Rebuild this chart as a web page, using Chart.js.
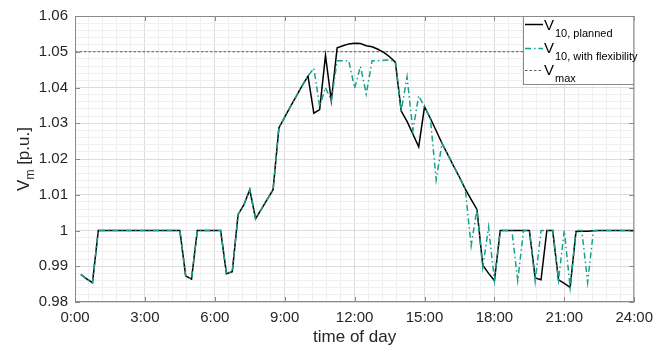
<!DOCTYPE html>
<html>
<head>
<meta charset="utf-8">
<script src="https://cdn.jsdelivr.net/npm/chart.js@4.4.0/dist/chart.umd.min.js"></script>
<style>
  body { margin: 0; background: #fff; }
  #wrap { width: 660px; height: 349px; }
</style>
</head>
<body>
<div id="wrap"><canvas id="voltChart" width="660" height="349"></canvas></div>
<script>
// --- DATA (15 min steps) ---
const timeOfDay = [
  0.25, 0.5, 0.75,
  1, 1.25, 1.5, 1.75,   2, 2.25, 2.5, 2.75,   3, 3.25, 3.5, 3.75,
  4, 4.25, 4.5, 4.75,   5, 5.25, 5.5, 5.75,   6, 6.25, 6.5, 6.75,
  7, 7.25, 7.5, 7.75,   8, 8.25, 8.5, 8.75,   9, 9.25, 9.5, 9.75,
  10, 10.25, 10.5, 10.75, 11, 11.25, 11.5, 11.75, 12, 12.25, 12.5, 12.75,
  13, 13.25, 13.5, 13.75, 14, 14.25, 14.5, 14.75, 15, 15.25, 15.5, 15.75,
  16, 16.25, 16.5, 16.75, 17, 17.25, 17.5, 17.75, 18, 18.25, 18.5, 18.75,
  19, 19.25, 19.5, 19.75, 20, 20.25, 20.5, 20.75, 21, 21.25, 21.5, 21.75,
  22, 22.25, 22.5, 22.75, 23, 23.25, 23.5, 23.75,
  24
];

const vPlanned = [
  0.9877, 0.9865, 0.9854,
  1.0, 1.0, 1.0, 1.0,
  1.0, 1.0, 1.0, 1.0,
  1.0, 1.0, 1.0, 1.0,
  1.0, 1.0, 1.0, 0.9873,
  0.9864, 1.0, 1.0, 1.0,
  1.0, 1.0, 0.9879, 0.9885,
  1.0045, 1.0072, 1.0114, 1.0033,
  1.0060, 1.0087, 1.0114, 1.0287,
  1.0317, 1.0347, 1.0376, 1.0405,
  1.0432, 1.0328, 1.0338, 1.0490,
  1.0363, 1.0511, 1.0517, 1.0522,
  1.0524, 1.0523, 1.0517, 1.0514,
  1.0507, 1.0498, 1.0486, 1.0471,
  1.0334, 1.0305, 1.0270, 1.0234,
  1.0346, 1.0314, 1.0279, 1.0244,
  1.0212, 1.0180, 1.0149, 1.0116,
  1.0087, 1.0059, 0.9903, 0.9880,
  0.9860, 1.0, 1.0, 1.0,
  1.0, 1.0, 1.0, 0.9867,
  0.9862, 1.0, 1.0, 0.9862,
  0.9852, 0.9841, 0.9997, 0.9998,
  0.9998, 0.9999, 1.0, 1.0,
  1.0, 1.0, 1.0, 1.0,
  1.0
];

const vFlex = [
  0.9877, 0.9865, 0.9854,
  1.0, 1.0, 1.0, 1.0,
  1.0, 1.0, 1.0, 1.0,
  1.0, 1.0, 1.0, 1.0,
  1.0, 1.0, 1.0, 0.9873,
  0.9864, 1.0, 1.0, 1.0,
  1.0, 1.0, 0.9879, 0.9885,
  1.0045, 1.0072, 1.0114, 1.0033,
  1.0060, 1.0087, 1.0114, 1.0287,
  1.0317, 1.0347, 1.0376, 1.0405,
  1.0432, 1.0454, 1.0347, 1.0400,
  1.0363, 1.0475, 1.0475, 1.0475,
  1.0398, 1.0459, 1.0382, 1.0475,
  1.0475, 1.0476, 1.0477, 1.0471,
  1.0334, 1.0430, 1.0280, 1.0377,
  1.0346, 1.0314, 1.0142, 1.0244,
  1.0212, 1.0180, 1.0149, 1.0116,
  0.9957, 1.0059, 0.9897, 1.0010,
  0.9860, 1.0, 1.0, 1.0,
  0.9860, 1.0, 1.0, 0.9857,
  1.0, 1.0, 1.0, 0.9862,
  1.0, 0.9841, 1.0, 1.0,
  0.9855, 1.0, 1.0, 1.0,
  1.0, 1.0, 1.0, 1.0,
  1.0
];

const vMax = 1.05;

const xTicks = [0, 3, 6, 9, 12, 15, 18, 21, 24];
const xTickLabels = ['0:00', '3:00', '6:00', '9:00', '12:00', '15:00', '18:00', '21:00', '24:00'];
const yTicks = [0.98, 0.99, 1.00, 1.01, 1.02, 1.03, 1.04, 1.05, 1.06];
const yTickLabels = ['0.98', '0.99', '1', '1.01', '1.02', '1.03', '1.04', '1.05', '1.06'];

// --- STYLE ---
const FONT = "'Liberation Sans', Arial, Helvetica, sans-serif";
const GREEN = '#17a08e';
const AXIS = '#8a8a8a';
const DASHDOT = [6, 3, 1.5, 3];

function withMinor(majors, n) {
  const out = [];
  for (let i = 0; i < majors.length - 1; i++) {
    const a = majors[i], b = majors[i + 1];
    for (let k = 0; k < n; k++) out.push(a + (b - a) * k / n);
  }
  out.push(majors[majors.length - 1]);
  return out;
}
const majorIdx = (arr, v) => arr.findIndex(m => Math.abs(m - v) < 1e-7);

const toXY = vals => vals.map((v, i) => ({ x: timeOfDay[i], y: v }));

// frame, inward ticks, legend and axis titles (need subscripts)
const matlabFrame = {
  id: 'matlabFrame',
  afterDraw(chart) {
    const c = chart.ctx;
    const a = chart.chartArea;
    const sx = chart.scales.x, sy = chart.scales.y;
    c.save();

    // box
    c.strokeStyle = AXIS;
    c.lineWidth = 1;
    c.strokeRect(a.left + 0.5, a.top + 0.5, a.right - a.left - 1, a.bottom - a.top - 1);

    // inward ticks
    c.beginPath();
    xTicks.forEach(t => {
      const px = Math.round(sx.getPixelForValue(t)) + 0.5;
      c.moveTo(px, a.bottom); c.lineTo(px, a.bottom - 5);
      c.moveTo(px, a.top); c.lineTo(px, a.top + 5);
    });
    yTicks.forEach(t => {
      const py = Math.round(sy.getPixelForValue(t)) + 0.5;
      c.moveTo(a.left, py); c.lineTo(a.left + 5, py);
      c.moveTo(a.right, py); c.lineTo(a.right - 5, py);
    });
    c.stroke();

    // legend
    const lx = 523, ly = a.top, lw = a.right - lx, lh = 69;
    c.fillStyle = '#fff';
    c.fillRect(lx, ly, lw, lh);
    c.strokeStyle = '#8a8a8a';
    c.strokeRect(lx + 0.5, ly + 0.5, lw - 1, lh - 1);

    const rows = [
      { y: 24.5, base: 29.5, sub: '10, planned', dash: [], color: '#000', w: 1.5 },
      { y: 48.5, base: 52.5, sub: '10, with flexibility', dash: DASHDOT, color: GREEN, w: 1.5 },
      { y: 70.5, base: 74.5, sub: 'max', dash: [2.5, 2], color: '#333', w: 0.8 }
    ];
    rows.forEach(r => {
      c.beginPath();
      c.setLineDash(r.dash);
      c.strokeStyle = r.color;
      c.lineWidth = r.w;
      c.moveTo(525, r.y); c.lineTo(543, r.y);
      c.stroke();
      c.setLineDash([]);
      c.fillStyle = '#000';
      c.textBaseline = 'alphabetic';
      c.textAlign = 'left';
      c.font = '15px ' + FONT;
      c.fillText('V', 544, r.base);
      c.font = '11px ' + FONT;
      c.fillText(r.sub, 555, r.base + 7);
    });

    // x title
    c.fillStyle = '#262626';
    c.font = '17px ' + FONT;
    c.textAlign = 'center';
    c.fillText('time of day', (a.left + a.right) / 2, 342);

    // y title, rotated
    c.translate(29, (a.top + a.bottom) / 2);
    c.rotate(-Math.PI / 2);
    c.textAlign = 'left';
    c.font = '17px ' + FONT;
    const wV = c.measureText('V').width;
    const wRest = c.measureText(' [p.u.]').width;
    c.font = '12px ' + FONT;
    const wM = c.measureText('m').width;
    let x0 = -(wV + wM + wRest) / 2;
    c.font = '17px ' + FONT;
    c.fillText('V', x0, 0);
    c.font = '12px ' + FONT;
    c.fillText('m', x0 + wV, 5);
    c.font = '17px ' + FONT;
    c.fillText(' [p.u.]', x0 + wV + wM, 0);

    c.restore();
  }
};

const ctx = document.getElementById('voltChart');
const chart = new Chart(ctx, {
  type: 'line',
  data: {
    datasets: [
      {
        label: 'V10, with flexibility',
        data: toXY(vFlex),
        borderColor: GREEN,
        borderWidth: 1.5,
        borderDash: DASHDOT,
        pointRadius: 0,
        tension: 0,
        order: 0
      },
      {
        label: 'V10, planned',
        data: toXY(vPlanned),
        borderColor: '#000',
        borderWidth: 1.5,
        pointRadius: 0,
        tension: 0,
        order: 1
      },
      {
        label: 'Vmax',
        data: [{ x: xTicks[0], y: vMax }, { x: xTicks[xTicks.length - 1], y: vMax }],
        borderColor: '#333',
        borderWidth: 0.8,
        borderDash: [2.5, 2],
        pointRadius: 0,
        order: 2
      }
    ]
  },
  options: {
    responsive: false,
    animation: false,
    devicePixelRatio: 1,
    layout: { padding: { left: 0, right: 21, top: 15, bottom: 0 } },
    plugins: { legend: { display: false }, tooltip: { enabled: false } },
    scales: {
      x: {
        type: 'linear',
        min: 0, max: 24,
        afterBuildTicks: s => { s.ticks = withMinor(xTicks, 5).map(v => ({ value: v })); },
        afterFit: s => { s.height = 47; },
        ticks: {
          autoSkip: false, maxRotation: 0, padding: 7,
          color: '#262626',
          font: { family: FONT, size: 15 },
          callback: v => { const i = majorIdx(xTicks, v); return i >= 0 ? xTickLabels[i] : ''; }
        },
        grid: {
          drawTicks: false,
          color: c => majorIdx(xTicks, c.tick.value) >= 0 ? '#dcdcdc' : '#efefef'
        },
        border: { display: false }
      },
      y: {
        type: 'linear',
        min: 0.98, max: 1.06,
        afterBuildTicks: s => { s.ticks = withMinor(yTicks, 5).map(v => ({ value: v })); },
        afterFit: s => { s.width = 75; },
        ticks: {
          autoSkip: false, padding: 7,
          color: '#262626',
          font: { family: FONT, size: 15 },
          callback: v => { const i = majorIdx(yTicks, v); return i >= 0 ? yTickLabels[i] : ''; }
        },
        grid: {
          drawTicks: false,
          color: c => majorIdx(yTicks, c.tick.value) >= 0 ? '#dcdcdc' : '#efefef'
        },
        border: { display: false }
      }
    }
  },
  plugins: [matlabFrame]
});
</script>
</body>
</html>
